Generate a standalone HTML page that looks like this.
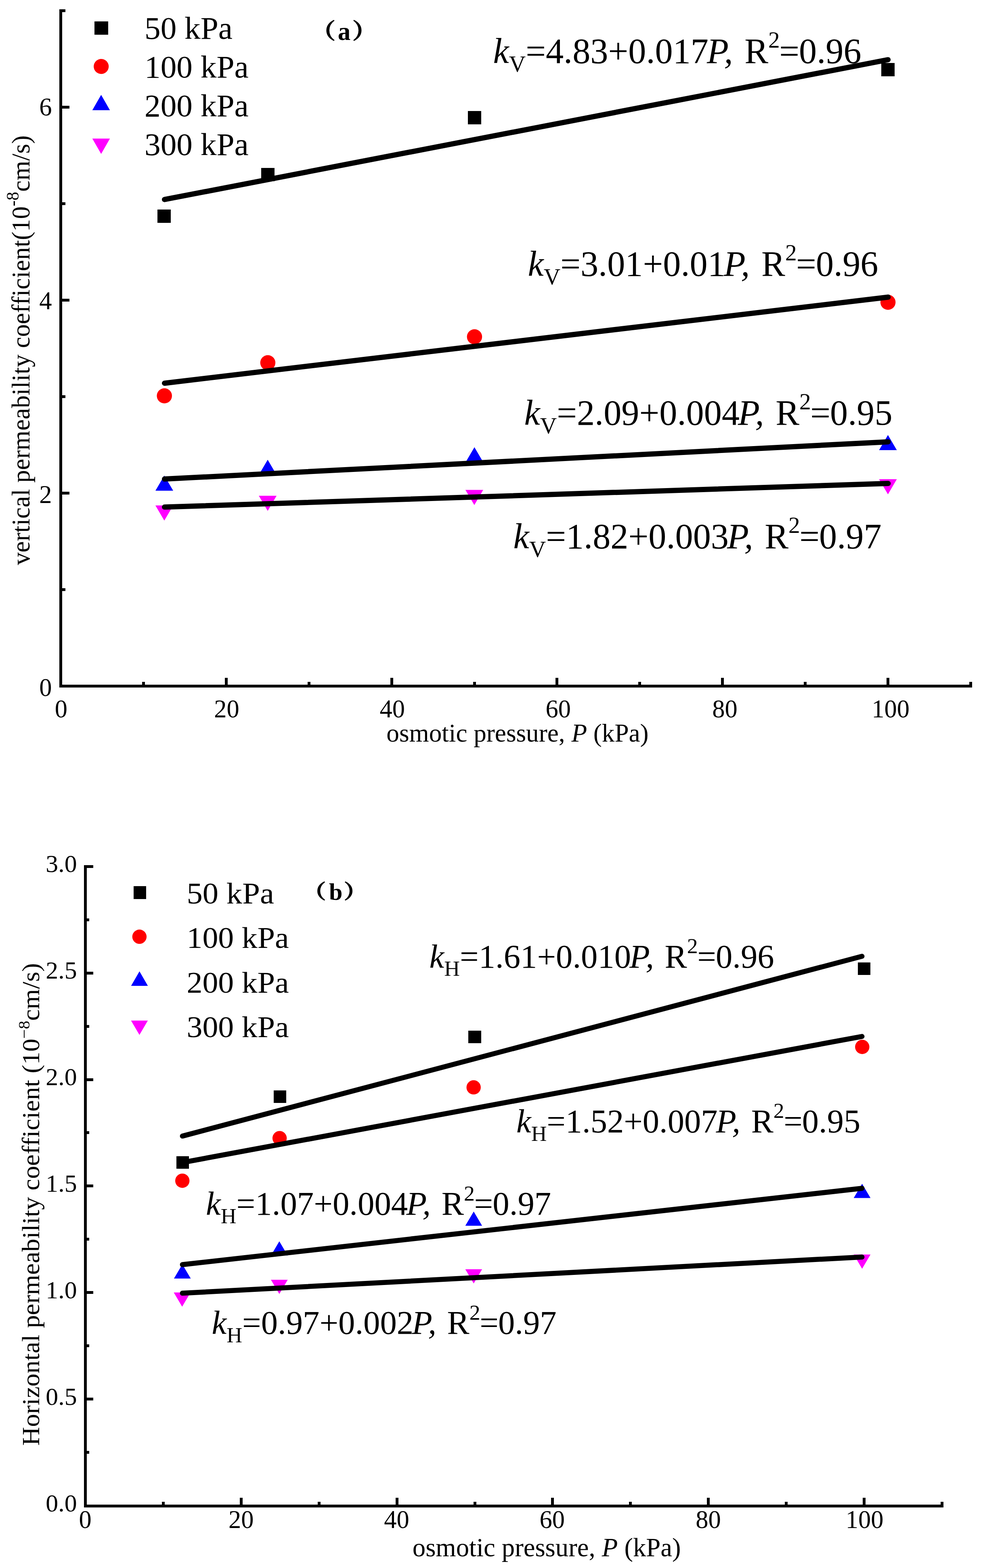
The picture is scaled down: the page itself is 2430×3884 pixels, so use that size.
<!DOCTYPE html>
<html lang="en"><head><meta charset="utf-8"><title>Permeability coefficient vs osmotic pressure</title>
<style>
html,body{margin:0;padding:0;background:#fff;}
body{width:2430px;height:3884px;overflow:hidden;}
svg{display:block;}
text{fill:#000;font-family:"Liberation Serif", serif;}
rect{shape-rendering:crispEdges;}
</style></head><body>
<svg width="2430" height="3884" viewBox="0 0 2430 3884">
<rect x="0" y="0" width="2430" height="3884" fill="#fff"/>
<rect x="147" y="23" width="7" height="1680" fill="#000"/>
<rect x="147" y="1696" width="2261" height="7" fill="#000"/>
<rect x="352" y="1689" width="7" height="11" fill="#000"/>
<rect x="557" y="1679" width="7" height="21" fill="#000"/>
<rect x="762" y="1689" width="7" height="11" fill="#000"/>
<rect x="967" y="1679" width="7" height="21" fill="#000"/>
<rect x="1172" y="1689" width="7" height="11" fill="#000"/>
<rect x="1376" y="1679" width="7" height="21" fill="#000"/>
<rect x="1581" y="1689" width="7" height="11" fill="#000"/>
<rect x="1786" y="1679" width="7" height="21" fill="#000"/>
<rect x="1991" y="1689" width="7" height="11" fill="#000"/>
<rect x="2196" y="1679" width="7" height="21" fill="#000"/>
<rect x="2401" y="1689" width="7" height="11" fill="#000"/>
<rect x="147" y="1457" width="15" height="7" fill="#000"/>
<rect x="147" y="1218" width="25" height="7" fill="#000"/>
<rect x="147" y="979" width="15" height="7" fill="#000"/>
<rect x="147" y="740" width="25" height="7" fill="#000"/>
<rect x="147" y="501" width="15" height="7" fill="#000"/>
<rect x="147" y="262" width="25" height="7" fill="#000"/>
<rect x="147" y="23" width="15" height="7" fill="#000"/>
<text x="151.4" y="1776.5" font-size="62.5" text-anchor="middle">0</text>
<text x="561.5" y="1776.5" font-size="62.5" text-anchor="middle">20</text>
<text x="971.8" y="1776.5" font-size="62.5" text-anchor="middle">40</text>
<text x="1382.8" y="1776.5" font-size="62.5" text-anchor="middle">60</text>
<text x="1795.6" y="1776.5" font-size="62.5" text-anchor="middle">80</text>
<text x="2206.0" y="1776.5" font-size="62.5" text-anchor="middle">100</text>
<text x="128.6" y="1724.3" font-size="62.5" text-anchor="end">0</text>
<text x="128.6" y="1245.6" font-size="62.5" text-anchor="end">2</text>
<text x="128.6" y="766.2" font-size="62.5" text-anchor="end">4</text>
<text x="128.6" y="286.0" font-size="62.5" text-anchor="end">6</text>
<text x="0" y="0" font-size="63" textLength="1064.5" lengthAdjust="spacingAndGlyphs" transform="translate(73.0,1399.8) rotate(-90)">vertical permeability coefficient(10<tspan font-size="43.5" dy="-27">-8</tspan><tspan dy="27">cm/s)</tspan></text>
<text x="1282" y="1837.0" font-size="63.2" text-anchor="middle">osmotic pressure, <tspan font-style="italic">P</tspan> (kPa)</text>
<rect x="234" y="53" width="34" height="33" fill="#000"/>
<circle cx="250.70" cy="164.60" r="18.60" fill="#ff0000"/>
<polygon points="250.50,234.90 272.30,272.90 228.70,272.90" fill="#0000ff"/>
<polygon points="228.70,343.30 272.30,343.30 250.50,381.30" fill="#ff00ff"/>
<text x="358" y="95.8" font-size="79.3">50 kPa</text>
<text x="358" y="191.8" font-size="79.3">100 kPa</text>
<text x="358" y="287.8" font-size="79.3">200 kPa</text>
<text x="358" y="383.8" font-size="79.3">300 kPa</text>
<text y="98.6" font-size="63" font-weight="bold"><tspan x="769.2" y="95.5" font-size="53.5" font-family='"Liberation Serif", "Noto Serif CJK SC", serif' textLength="62.1" lengthAdjust="spacingAndGlyphs" stroke="#000" stroke-width="1.3">（</tspan><tspan x="836.7" y="98.6">a</tspan><tspan x="872.5" y="95.5" font-size="53.5" font-family='"Liberation Serif", "Noto Serif CJK SC", serif' textLength="62.1" lengthAdjust="spacingAndGlyphs" stroke="#000" stroke-width="1.3">）</tspan></text>
<text x="1221.5" y="155.5" font-size="88.3"><tspan font-style="italic">k</tspan><tspan font-size="57.4" dy="22.1">V</tspan><tspan dy="-22.1">=4.83+0.017</tspan><tspan font-style="italic" dx="-4.0">P,</tspan><tspan dx="6.5"> R</tspan><tspan font-size="57.4" dx="0.0" dy="-38.0">2</tspan><tspan dx="-1.5" dy="38.0">=</tspan><tspan dx="-1.0">0.96</tspan></text>
<text x="1307.5" y="682.5" font-size="88.3"><tspan font-style="italic">k</tspan><tspan font-size="57.4" dy="22.1">V</tspan><tspan dy="-22.1">=3.01+0.01</tspan><tspan font-style="italic" dx="-4.0">P,</tspan><tspan dx="6.5"> R</tspan><tspan font-size="57.4" dx="0.0" dy="-38.0">2</tspan><tspan dx="-1.5" dy="38.0">=</tspan><tspan dx="-1.0">0.96</tspan></text>
<text x="1298.5" y="1051.6" font-size="88.3"><tspan font-style="italic">k</tspan><tspan font-size="57.4" dy="22.1">V</tspan><tspan dy="-22.1">=2.09+0.004</tspan><tspan font-style="italic" dx="-4.0">P,</tspan><tspan dx="6.5"> R</tspan><tspan font-size="57.4" dx="0.0" dy="-38.0">2</tspan><tspan dx="-1.5" dy="38.0">=</tspan><tspan dx="-1.0">0.95</tspan></text>
<text x="1271.5" y="1357.6" font-size="88.3"><tspan font-style="italic">k</tspan><tspan font-size="57.4" dy="22.1">V</tspan><tspan dy="-22.1">=1.82+0.003</tspan><tspan font-style="italic" dx="-4.0">P,</tspan><tspan dx="6.5"> R</tspan><tspan font-size="57.4" dx="0.0" dy="-38.0">2</tspan><tspan dx="-1.5" dy="38.0">=</tspan><tspan dx="-1.0">0.97</tspan></text>
<rect x="390" y="519" width="33" height="33" fill="#000"/>
<rect x="647" y="416" width="33" height="33" fill="#000"/>
<rect x="1159" y="275" width="33" height="33" fill="#000"/>
<rect x="2183" y="156" width="33" height="33" fill="#000"/>
<circle cx="407.20" cy="980.50" r="18.75" fill="#ff0000"/>
<circle cx="663.40" cy="898.50" r="18.75" fill="#ff0000"/>
<circle cx="1175.40" cy="834.20" r="18.75" fill="#ff0000"/>
<circle cx="2199.60" cy="748.80" r="18.75" fill="#ff0000"/>
<polygon points="407.00,1178.00 429.00,1215.50 385.00,1215.50" fill="#0000ff"/>
<polygon points="663.10,1138.70 685.10,1176.20 641.10,1176.20" fill="#0000ff"/>
<polygon points="1175.20,1107.80 1197.20,1145.30 1153.20,1145.30" fill="#0000ff"/>
<polygon points="2199.50,1077.60 2221.50,1115.10 2177.50,1115.10" fill="#0000ff"/>
<polygon points="385.00,1252.10 429.00,1252.10 407.00,1289.60" fill="#ff00ff"/>
<polygon points="641.10,1228.00 685.10,1228.00 663.10,1265.50" fill="#ff00ff"/>
<polygon points="1152.90,1213.60 1196.90,1213.60 1174.90,1251.10" fill="#ff00ff"/>
<polygon points="2177.50,1187.10 2221.50,1187.10 2199.50,1224.60" fill="#ff00ff"/>
<line x1="407.50" y1="494.20" x2="2199.70" y2="147.90" stroke="#000" stroke-width="13" stroke-linecap="round"/>
<line x1="407.50" y1="949.20" x2="2199.90" y2="736.00" stroke="#000" stroke-width="13" stroke-linecap="round"/>
<line x1="407.50" y1="1186.60" x2="2199.90" y2="1094.40" stroke="#000" stroke-width="13" stroke-linecap="round"/>
<line x1="407.50" y1="1256.10" x2="2199.90" y2="1197.60" stroke="#000" stroke-width="13" stroke-linecap="round"/>
<rect x="208" y="2143" width="7" height="1591" fill="#000"/>
<rect x="208" y="3727" width="2129" height="7" fill="#000"/>
<rect x="401" y="3720" width="7" height="11" fill="#000"/>
<rect x="594" y="3710" width="7" height="21" fill="#000"/>
<rect x="787" y="3720" width="7" height="11" fill="#000"/>
<rect x="980" y="3710" width="7" height="21" fill="#000"/>
<rect x="1173" y="3720" width="7" height="11" fill="#000"/>
<rect x="1365" y="3710" width="7" height="21" fill="#000"/>
<rect x="1558" y="3720" width="7" height="11" fill="#000"/>
<rect x="1751" y="3710" width="7" height="21" fill="#000"/>
<rect x="1944" y="3720" width="7" height="11" fill="#000"/>
<rect x="2137" y="3710" width="7" height="21" fill="#000"/>
<rect x="2330" y="3720" width="7" height="11" fill="#000"/>
<rect x="208" y="3594" width="13" height="7" fill="#000"/>
<rect x="208" y="3462" width="23" height="7" fill="#000"/>
<rect x="208" y="3330" width="13" height="7" fill="#000"/>
<rect x="208" y="3198" width="23" height="7" fill="#000"/>
<rect x="208" y="3066" width="13" height="7" fill="#000"/>
<rect x="208" y="2934" width="23" height="7" fill="#000"/>
<rect x="208" y="2802" width="13" height="7" fill="#000"/>
<rect x="208" y="2671" width="23" height="7" fill="#000"/>
<rect x="208" y="2539" width="13" height="7" fill="#000"/>
<rect x="208" y="2407" width="23" height="7" fill="#000"/>
<rect x="208" y="2275" width="13" height="7" fill="#000"/>
<rect x="208" y="2143" width="23" height="7" fill="#000"/>
<text x="211" y="3784.5" font-size="62.5" text-anchor="middle">0</text>
<text x="597.3" y="3784.5" font-size="62.5" text-anchor="middle">20</text>
<text x="982.4" y="3784.5" font-size="62.5" text-anchor="middle">40</text>
<text x="1367.8" y="3784.5" font-size="62.5" text-anchor="middle">60</text>
<text x="1754.6" y="3784.5" font-size="62.5" text-anchor="middle">80</text>
<text x="2141.5" y="3784.5" font-size="62.5" text-anchor="middle">100</text>
<text x="190.6" y="3744.4" font-size="61.8" text-anchor="end">0.0</text>
<text x="190.6" y="3480.4" font-size="61.8" text-anchor="end">0.5</text>
<text x="190.6" y="3216.4" font-size="61.8" text-anchor="end">1.0</text>
<text x="190.6" y="2952.4" font-size="61.8" text-anchor="end">1.5</text>
<text x="190.6" y="2688.4" font-size="61.8" text-anchor="end">2.0</text>
<text x="190.6" y="2424.4" font-size="61.8" text-anchor="end">2.5</text>
<text x="190.6" y="2160.4" font-size="61.8" text-anchor="end">3.0</text>
<text x="0" y="0" font-size="61.5" textLength="1195.5" lengthAdjust="spacingAndGlyphs" transform="translate(96.6,3581) rotate(-90)">Horizontal permeability coefficient (10<tspan font-size="40" dy="-24">−8</tspan><tspan dy="24">cm/s)</tspan></text>
<text x="1354.2" y="3854.6" font-size="64.7" text-anchor="middle">osmotic pressure, <tspan font-style="italic">P</tspan> (kPa)</text>
<rect x="331" y="2195" width="31" height="32" fill="#000"/>
<circle cx="345.40" cy="2320.30" r="17.70" fill="#ff0000"/>
<polygon points="345.50,2406.00 366.30,2441.90 324.70,2441.90" fill="#0000ff"/>
<polygon points="324.60,2528.00 366.20,2528.00 345.40,2563.60" fill="#ff00ff"/>
<text x="462.5" y="2238.1" font-size="74" textLength="216.3" lengthAdjust="spacingAndGlyphs">50 kPa</text>
<text x="462.5" y="2348.2999999999997" font-size="74" textLength="253" lengthAdjust="spacingAndGlyphs">100 kPa</text>
<text x="462.5" y="2458.5" font-size="74" textLength="253" lengthAdjust="spacingAndGlyphs">200 kPa</text>
<text x="462.5" y="2568.7" font-size="74" textLength="253" lengthAdjust="spacingAndGlyphs">300 kPa</text>
<text y="2228.6" font-size="60" font-weight="bold"><tspan x="749.4" y="2225.6" font-size="48.5" font-family='"Liberation Serif", "Noto Serif CJK SC", serif' textLength="58.2" lengthAdjust="spacingAndGlyphs" stroke="#000" stroke-width="1.3">（</tspan><tspan x="815" y="2228.6">b</tspan><tspan x="851.6" y="2225.6" font-size="48.5" font-family='"Liberation Serif", "Noto Serif CJK SC", serif' textLength="58.2" lengthAdjust="spacingAndGlyphs" stroke="#000" stroke-width="1.3">）</tspan></text>
<text x="1063.5" y="2396.6" font-size="82.7"><tspan font-style="italic">k</tspan><tspan font-size="53.8" dy="20.7">H</tspan><tspan dy="-20.7">=1.61+0.010</tspan><tspan font-style="italic" dx="-3.8">P,</tspan><tspan dx="6.1"> R</tspan><tspan font-size="53.8" dx="0.0" dy="-35.6">2</tspan><tspan dx="-1.4" dy="35.6">=</tspan><tspan dx="-0.9">0.96</tspan></text>
<text x="1279" y="2804.9" font-size="82.5"><tspan font-style="italic">k</tspan><tspan font-size="53.6" dy="20.6">H</tspan><tspan dy="-20.6">=1.52+0.007</tspan><tspan font-style="italic" dx="-3.8">P,</tspan><tspan dx="6.1"> R</tspan><tspan font-size="53.6" dx="0.0" dy="-35.5">2</tspan><tspan dx="-1.4" dy="35.5">=</tspan><tspan dx="-0.9">0.95</tspan></text>
<text x="510" y="3009.2" font-size="82.8"><tspan font-style="italic">k</tspan><tspan font-size="53.8" dy="20.7">H</tspan><tspan dy="-20.7">=1.07+0.004</tspan><tspan font-style="italic" dx="-3.8">P,</tspan><tspan dx="6.1"> R</tspan><tspan font-size="53.8" dx="0.0" dy="-35.6">2</tspan><tspan dx="-1.4" dy="35.6">=</tspan><tspan dx="-0.9">0.97</tspan></text>
<text x="524.5" y="3304.2" font-size="82.7"><tspan font-style="italic">k</tspan><tspan font-size="53.8" dy="20.7">H</tspan><tspan dy="-20.7">=0.97+0.002</tspan><tspan font-style="italic" dx="-3.8">P,</tspan><tspan dx="6.1"> R</tspan><tspan font-size="53.8" dx="0.0" dy="-35.6">2</tspan><tspan dx="-1.4" dy="35.6">=</tspan><tspan dx="-0.9">0.97</tspan></text>
<rect x="437" y="2864" width="31" height="31" fill="#000"/>
<rect x="678" y="2701" width="31" height="31" fill="#000"/>
<rect x="2125" y="2384" width="31" height="31" fill="#000"/>
<rect x="1160" y="2553" width="32" height="31" fill="#000"/>
<circle cx="451.70" cy="2924.70" r="17.70" fill="#ff0000"/>
<circle cx="692.60" cy="2819.20" r="17.70" fill="#ff0000"/>
<circle cx="1173.20" cy="2693.40" r="17.70" fill="#ff0000"/>
<circle cx="2135.80" cy="2593.20" r="17.70" fill="#ff0000"/>
<polygon points="451.70,3131.80 472.50,3167.10 430.90,3167.10" fill="#0000ff"/>
<polygon points="691.90,3074.70 712.70,3110.00 671.10,3110.00" fill="#0000ff"/>
<polygon points="1173.40,3001.00 1194.20,3036.30 1152.60,3036.30" fill="#0000ff"/>
<polygon points="2135.50,2932.30 2156.30,2967.60 2114.70,2967.60" fill="#0000ff"/>
<polygon points="430.40,3201.50 472.00,3201.50 451.20,3236.80" fill="#ff00ff"/>
<polygon points="671.10,3169.90 712.70,3169.90 691.90,3205.20" fill="#ff00ff"/>
<polygon points="1152.60,3143.90 1194.20,3143.90 1173.40,3179.20" fill="#ff00ff"/>
<polygon points="2114.70,3107.40 2156.30,3107.40 2135.50,3142.70" fill="#ff00ff"/>
<line x1="451.90" y1="2814.10" x2="2135.20" y2="2368.80" stroke="#000" stroke-width="12.5" stroke-linecap="round"/>
<line x1="451.90" y1="2879.60" x2="2135.20" y2="2567.30" stroke="#000" stroke-width="12.5" stroke-linecap="round"/>
<line x1="451.90" y1="3132.50" x2="2135.20" y2="2943.50" stroke="#000" stroke-width="12.5" stroke-linecap="round"/>
<line x1="451.90" y1="3203.30" x2="2135.20" y2="3113.70" stroke="#000" stroke-width="12.5" stroke-linecap="round"/>
</svg>
</body></html>
